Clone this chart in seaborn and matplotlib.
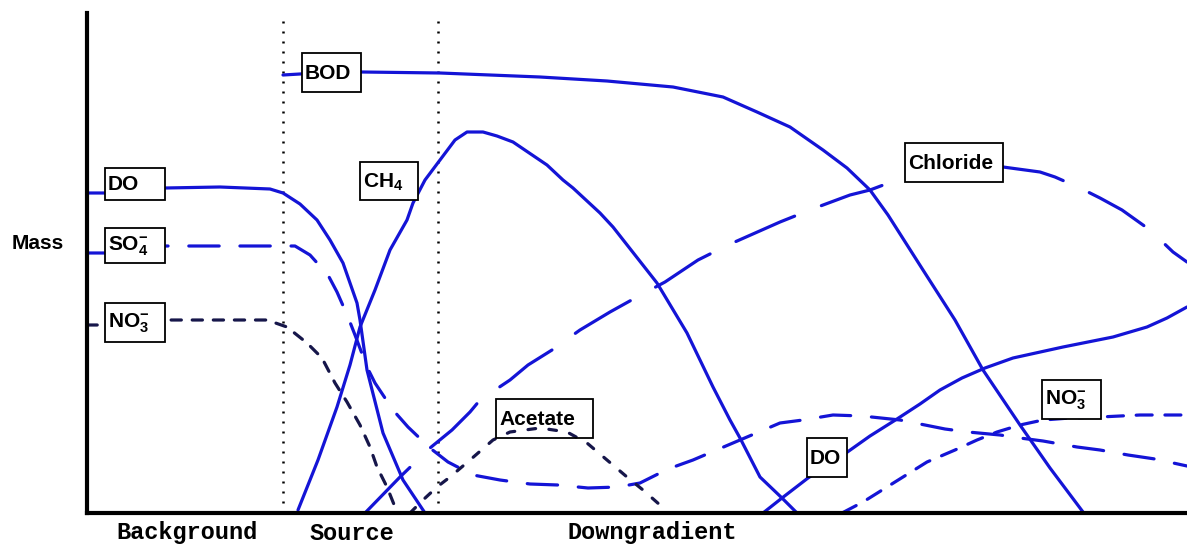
import matplotlib
matplotlib.use("Agg")
import matplotlib.pyplot as plt
from matplotlib.patches import Rectangle
import seaborn as sns

# distance along flow path (0 = background edge) and relative mass
bod_x = [196, 213, 275, 353, 453, 520, 586, 636, 670, 703, 736, 760, 783, 801, 836, 868, 896, 933, 963, 996]
bod_y = [438, 439, 441, 440, 436, 432, 426, 416, 401, 386, 363, 345, 323, 298, 243, 193, 143, 88, 45, 1]

do_bg_x = [0, 18, 78, 133, 183, 196, 213, 230, 243, 256, 270, 273, 280, 296, 316, 338]
do_bg_y = [320, 320, 325, 326, 324, 320, 309, 293, 273, 250, 210, 193, 143, 80, 33, 0]

so4_x = [0, 18, 78, 208, 223, 241, 250, 261, 268, 280, 288, 306, 321, 343, 361, 386, 413, 443, 471, 501,
         531, 553, 581, 606, 653, 693, 716, 746, 775, 813, 833, 858, 881, 913, 933, 956, 990, 1013, 1041, 1068, 1100]
so4_y = [260, 260, 267, 267, 258, 238, 221, 196, 178, 146, 130, 103, 86, 65, 51, 38, 33, 29, 28, 25,
         26, 30, 44, 53, 73, 90, 93, 98, 97, 93, 89, 84, 81, 78, 75, 72, 66, 63, 58, 54, 47]

no3_bg_x = [0, 18, 78, 180, 200, 220, 235, 248, 260, 273, 283, 290, 300, 308, 311]
no3_bg_y = [188, 188, 193, 193, 186, 170, 155, 130, 111, 88, 66, 46, 26, 6, 0]

ch4_x = [211, 231, 250, 263, 273, 288, 303, 320, 326, 338, 353, 368, 380, 396, 410, 426, 460, 476, 486, 513,
         526, 548, 570, 600, 626, 643, 653, 673, 695, 710]
ch4_y = [3, 53, 106, 148, 186, 223, 263, 293, 310, 333, 353, 373, 381, 381, 377, 371, 348, 333, 325, 300,
         286, 258, 230, 180, 126, 93, 75, 36, 15, 0]

cl_x = [278, 313, 343, 365, 383, 393, 423, 441, 465, 493, 523, 550, 578, 611, 641, 693, 728, 763, 783,
        815, 863, 916, 953, 968, 993, 1013, 1035, 1063, 1086, 1100]
cl_y = [0, 36, 65, 83, 101, 113, 133, 148, 163, 183, 201, 216, 231, 253, 268, 291, 305, 318, 323,
        335, 343, 346, 341, 336, 325, 315, 303, 283, 261, 251]

acetate_x = [323, 336, 350, 363, 383, 406, 423, 453, 480, 500, 520, 540, 556, 573, 579]
acetate_y = [0, 13, 26, 36, 53, 73, 81, 85, 81, 70, 53, 36, 23, 8, 0]

do_dg_x = [676, 695, 721, 759, 783, 810, 833, 853, 875, 898, 926, 976, 1026, 1060, 1080, 1100]
do_dg_y = [0, 15, 35, 60, 77, 94, 109, 123, 135, 145, 155, 166, 176, 186, 195, 206]

no3_dg_x = [755, 776, 808, 840, 868, 890, 910, 933, 956, 983, 1013, 1053, 1100]
no3_dg_y = [0, 11, 31, 51, 63, 73, 81, 88, 93, 95, 96, 98, 98]

zone_edges = [196, 351]
zone_names = ["Background", "Source", "Downgradient"]

BLUE = "#1414d6"
DARK = "#16164a"

sns.set_style("white")
plt.rcParams["font.family"] = ["Liberation Sans", "DejaVu Sans"]
plt.rcParams["text.color"] = "black"
plt.rcParams["mathtext.fontset"] = "custom"
plt.rcParams["mathtext.rm"] = "Liberation Sans:bold"
plt.rcParams["mathtext.bf"] = "Liberation Sans:bold"
plt.rcParams["mathtext.it"] = "Liberation Sans:bold"

fig = plt.figure(figsize=(11.87, 5.44), dpi=100)
ax = fig.add_axes([87 / 1187, 31 / 544, 1100 / 1187, 500 / 544])

curves = [
    (bod_x, bod_y, BLUE, "-"),
    (do_bg_x, do_bg_y, BLUE, "-"),
    (so4_x, so4_y, BLUE, (0, (9.5, 6.5))),
    (no3_bg_x, no3_bg_y, DARK, (0, (3.2, 3.4))),
    (ch4_x, ch4_y, BLUE, "-"),
    (cl_x, cl_y, BLUE, (0, (20, 9))),
    (acetate_x, acetate_y, DARK, (0, (2.4, 4.2))),
    (do_dg_x, do_dg_y, BLUE, "-"),
    (no3_dg_x, no3_dg_y, BLUE, (0, (5, 4))),
]
for xs, ys, col, ls in curves:
    sns.lineplot(x=xs, y=ys, sort=False, estimator=None, ax=ax, color=col,
                 lw=2.3, linestyle=ls, dash_capstyle="round", solid_joinstyle="round", zorder=2)

for xe in zone_edges:
    ax.axvline(xe, color="black", lw=1.8, linestyle=(0, (0.8, 3.2)), zorder=1)

# label boxes: text, x0, x1, y0, y1
labels = [
    ("DO", 18, 78, 313, 345),
    (r"SO$_{\mathbf{4}}^{\mathbf{-}}$", 18, 78, 250, 285),
    (r"NO$_{\mathbf{3}}^{\mathbf{-}}$", 18, 78, 171, 210),
    ("BOD", 215, 274, 421, 460),
    (r"CH$_{\mathbf{4}}$", 273, 331, 313, 351),
    ("Chloride", 818, 916, 331, 370),
    ("Acetate", 409, 506, 75, 114),
    ("DO", 720, 760, 36, 75),
    (r"NO$_{\mathbf{3}}^{\mathbf{-}}$", 955, 1014, 94, 133),
]
for txt, x0, x1, y0, y1 in labels:
    face = "none" if txt == "Acetate" else "white"
    ax.add_patch(Rectangle((x0, y0), x1 - x0, y1 - y0, facecolor=face,
                           edgecolor="black", lw=1.3, zorder=3))
    ax.text(x0 + 3, (y0 + y1) / 2 - 1, txt, fontsize=15, fontweight="bold",
            color="black", ha="left", va="center", zorder=4)

ax.set_xlim(0, 1100)
ax.set_ylim(0, 500)
ax.set_xticks([])
ax.set_yticks([])
sns.despine(ax=ax)
for side in ["left", "bottom"]:
    ax.spines[side].set_linewidth(3)
    ax.spines[side].set_color("black")

fig.text(38 / 1187, 1 - 243 / 544, "Mass", fontsize=15, fontweight="bold",
         color="black", ha="center", va="center")
for name, xc in zip(zone_names, [187, 352, 652]):
    fig.text(xc / 1187, 1 - 533 / 544, name, fontsize=17, fontweight="bold",
             family="Liberation Mono", color="black", ha="center", va="center")

fig.savefig("out.png", dpi=100, facecolor="white")
